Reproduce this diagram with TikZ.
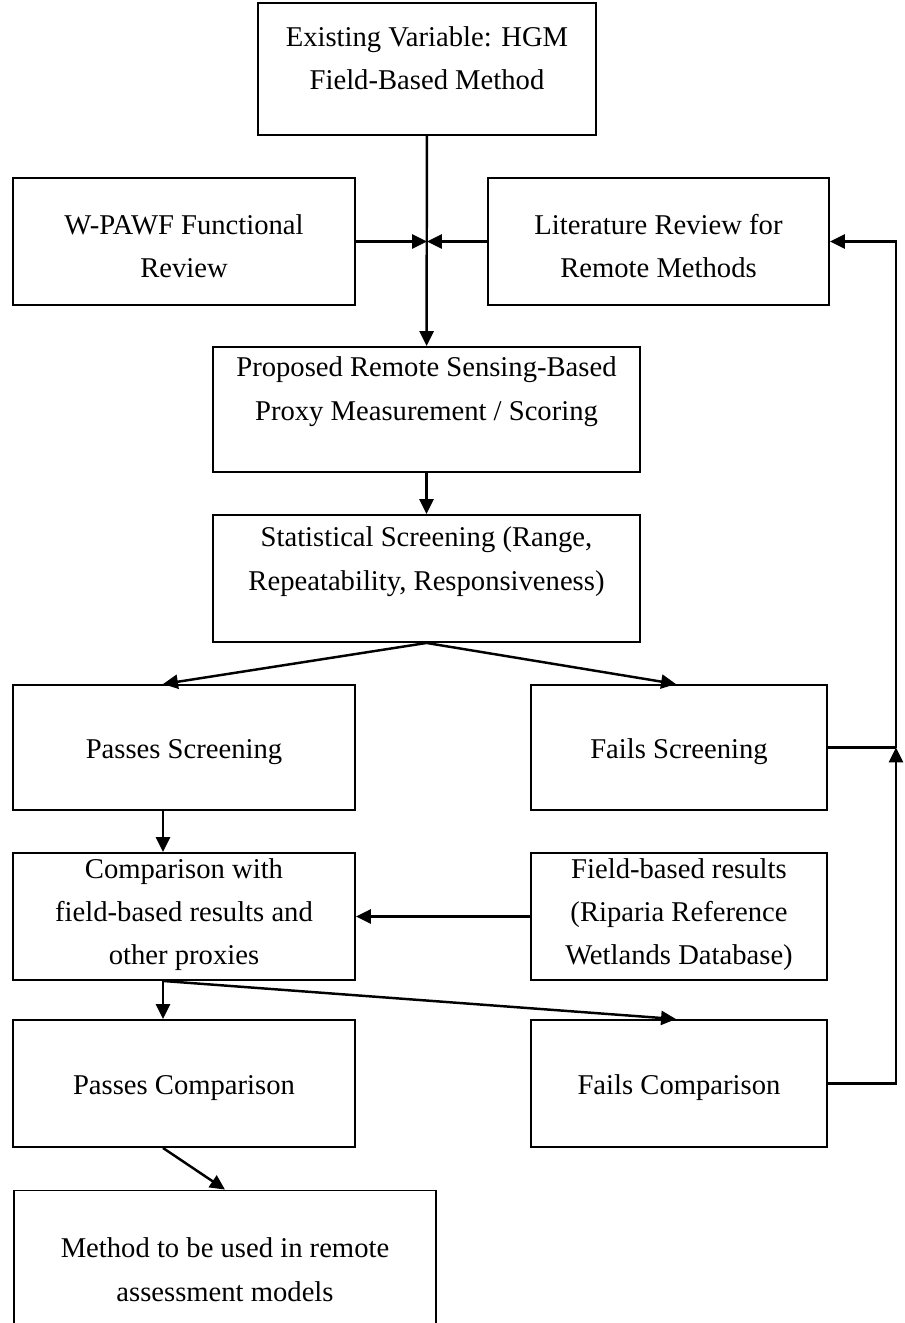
\documentclass[tikz,border=0pt]{standalone}
\usepackage{fontspec}
\setmainfont{Liberation Serif}
\usetikzlibrary{arrows.meta, positioning, calc}

\tikzset{
  stepbox/.style={draw, line width=1.1pt, align=center, inner sep=0pt,
    font=\fontsize{16.3}{24.6}\selectfont},
  boxtext/.style 2 args={text height=#1, text depth=#2},
  flow/.style={line width=1.4pt, -{Triangle[length=8.5pt, width=8pt]}},
  rail/.style={line width=1.4pt},
}

\begin{document}
\begin{tikzpicture}[x=0.02cm, y=-0.02cm]
  \useasboundingbox (0,0) rectangle (904,1323);

  % boxes
  \node[stepbox, boxtext={36.6pt}{13.5pt}, minimum width=6.76cm, minimum height=2.64cm] (existing) at (427,69)
    {Existing Variable: HGM\\Field-Based Method};
  \node[stepbox, boxtext={44.6pt}{3.5pt}, minimum width=6.84cm, minimum height=2.54cm] (pawf) at (184,241.5)
    {W-PAWF Functional\\Review};
  \node[stepbox, boxtext={44.6pt}{3.5pt}, minimum width=6.82cm, minimum height=2.54cm] (litrev) at (658.5,241.5)
    {Literature Review for\\Remote Methods};
  \node[stepbox, boxtext={36.6pt}{24.5pt}, minimum width=8.54cm, minimum height=2.5cm] (proposed) at (426.5,409.5)
    {Proposed Remote Sensing-Based\\Proxy Measurement / Scoring};
  \node[stepbox, boxtext={36.6pt}{23.5pt}, minimum width=8.54cm, minimum height=2.54cm] (screening) at (426.5,578.5)
    {Statistical Screening (Range,\\Repeatability, Responsiveness)};
  \node[stepbox, boxtext={16.5pt}{3.5pt}, minimum width=6.84cm, minimum height=2.5cm] (passscr) at (184,747.5)
    {Passes Screening};
  \node[stepbox, boxtext={16.5pt}{3.5pt}, minimum width=5.92cm, minimum height=2.5cm] (failscr) at (679,747.5)
    {Fails Screening};
  \node[stepbox, boxtext={63.3pt}{8.6pt}, minimum width=6.84cm, minimum height=2.54cm] (compare) at (184,916.5)
    {Comparison with\\field-based results and\\other proxies};
  \node[stepbox, boxtext={63.3pt}{8.6pt}, minimum width=5.92cm, minimum height=2.54cm] (fieldres) at (679,916.5)
    {Field-based results\\(Riparia Reference\\Wetlands Database)};
  \node[stepbox, boxtext={16.5pt}{3.5pt}, minimum width=6.84cm, minimum height=2.54cm] (passcmp) at (184,1083.5)
    {Passes Comparison};
  \node[stepbox, boxtext={16.5pt}{3.5pt}, minimum width=5.92cm, minimum height=2.54cm] (failcmp) at (679,1083.5)
    {Fails Comparison};
  \node[stepbox, boxtext={41.1pt}{3.5pt}, minimum width=8.44cm, minimum height=3.1cm] (method) at (225,1268)
    {Method to be used in remote\\assessment models};

  % joins
  \coordinate (merge) at (existing.south |- pawf.east);
  \coordinate (railmid) at (896,747.5);

  % arrows
  \draw[flow] (existing) -- (proposed);
  \draw[flow] (pawf) -- (merge);
  \draw[flow] (litrev) -- (merge);
  \draw[flow] (proposed) -- (screening);
  \draw[flow] (screening.south) -- ([xshift=-0.42cm]passscr.north);
  \draw[flow] (screening.south) -- ([xshift=-0.06cm]failscr.north);
  \draw[flow] ([xshift=-0.42cm]passscr.south) -- ([xshift=-0.42cm]compare.north);
  \draw[flow] (fieldres) -- (compare);
  \draw[flow] ([xshift=-0.42cm]compare.south) -- ([xshift=-0.42cm]passcmp.north);
  \draw[flow] ([xshift=-0.42cm]compare.south) -- ([xshift=-0.06cm]failcmp.north);
  \draw[flow] ([xshift=-0.42cm]passcmp.south) -- (method.north);
  \draw[rail] (failscr.east) -- (railmid);
  \draw[flow] (failcmp.east) -| (railmid);
  \draw[flow] (railmid) |- (litrev.east);
\end{tikzpicture}
\end{document}
